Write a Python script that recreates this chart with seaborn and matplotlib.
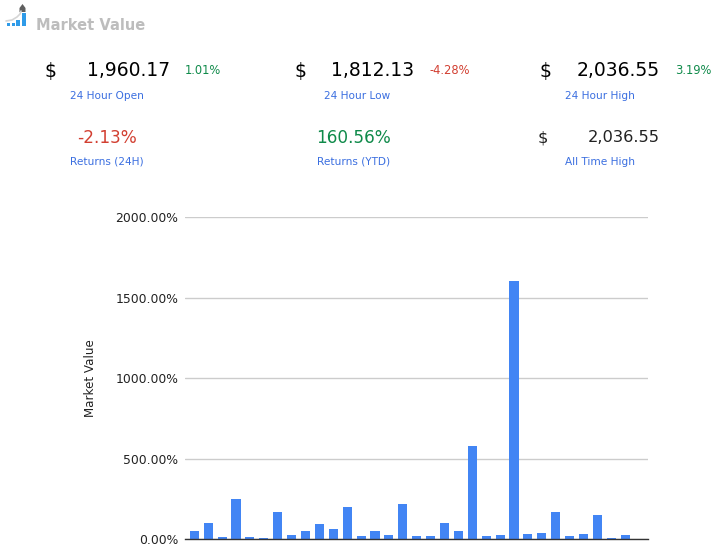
import matplotlib
matplotlib.use("Agg")
import matplotlib.pyplot as plt
from matplotlib.patches import Rectangle, Polygon
import pandas as pd
import seaborn as sns

W, H = 723, 553

# percent returns per bar
periods = [f"p{i}" for i in range(1, 33)]
returns = [52, 101, 14, 250, 14, 8, 170, 27, 52, 95, 64, 200, 20, 52, 27, 219,
           20, 20, 101, 52, 580, 20, 27, 1604, 33, 39, 170, 20, 33, 151, 8, 27]
y_ticks = [0, 500, 1000, 1500, 2000]
y_tick_labels = ["0.00%", "500.00%", "1000.00%", "1500.00%", "2000.00%"]

GREEN = "#0f8a4a"
RED = "#d23f31"
BLUE = "#3b6fe0"
BAR = "#4285f4"

sns.set_theme(style="white")
plt.rcParams["font.family"] = ["DejaVu Sans"]

fig = plt.figure(figsize=(W / 100, H / 100), dpi=100)


def put(x, y, s, **kw):
    # header text is placed in image pixels, y going down
    kw.setdefault("va", "center")
    fig.text(x / W, 1 - y / H, s, **kw)


# --- header ---
put(36, 25, "Market Value", fontsize=10.5, fontweight="bold", color="#bdbdbd", ha="left")

put(50, 71, "$", fontsize=13.5, color="black", ha="center")
put(170, 71, "1,960.17", fontsize=13.5, color="black", ha="right")
put(185, 70, "1.01%", fontsize=8.3, color=GREEN, ha="left")
put(107, 96, "24 Hour Open", fontsize=7.6, color=BLUE, ha="center")

put(300, 71, "$", fontsize=13.5, color="black", ha="center")
put(414, 71, "1,812.13", fontsize=13.5, color="black", ha="right")
put(430, 70, "-4.28%", fontsize=8.3, color=RED, ha="left")
put(357, 96, "24 Hour Low", fontsize=7.6, color=BLUE, ha="center")

put(545, 71, "$", fontsize=13.5, color="black", ha="center")
put(660, 71, "2,036.55", fontsize=13.5, color="black", ha="right")
put(675, 70, "3.19%", fontsize=8.3, color=GREEN, ha="left")
put(600, 96, "24 Hour High", fontsize=7.6, color=BLUE, ha="center")

put(107, 138, "-2.13%", fontsize=12.2, color=RED, ha="center")
put(107, 162, "Returns (24H)", fontsize=7.6, color=BLUE, ha="center")
put(354, 138, "160.56%", fontsize=12.2, color=GREEN, ha="center")
put(354, 162, "Returns (YTD)", fontsize=7.6, color=BLUE, ha="center")
put(543, 138, "$", fontsize=11.7, color="#222222", ha="center")
put(660, 138, "2,036.55", fontsize=11.7, color="#222222", ha="right")
put(600, 162, "All Time High", fontsize=7.6, color=BLUE, ha="center")

# --- small logo ---
logo = fig.add_axes([0, 1 - 32 / H, 40 / W, 32 / H])
logo.set_xlim(0, 40)
logo.set_ylim(32, 0)
logo.axis("off")
for lx, ltop, lw in [(7, 23, 3), (11.5, 23, 3), (16, 20, 3.5), (21.5, 13, 4)]:
    logo.add_patch(Rectangle((lx, ltop), lw, 26 - ltop, color="#2f9be8", lw=0))
logo.plot([6, 12, 17, 20, 21], [21, 20, 17, 14, 11], color="#d5d5d5", lw=1.2)
logo.add_patch(Polygon([[22.5, 4], [19.5, 8], [19.5, 12], [25.5, 12], [25.5, 8]],
                       color="#5f5f5f", lw=0))

# --- bar chart ---
ax = fig.add_axes([185 / W, 1 - 539.3 / H, (648 - 185) / W, (539.3 - 217) / H])
df = pd.DataFrame({"period": periods, "returns": returns})
sns.barplot(data=df, x="period", y="returns", color=BAR, saturation=1, width=0.65,
            linewidth=0, ax=ax)

ax.set_xlim(-0.67, 32.64)
ax.set_ylim(0, 2000)
ax.set_yticks(y_ticks)
ax.set_yticklabels(y_tick_labels, fontsize=8.9, color="#222222")
ax.set_xticks([])
ax.set_xlabel("")
ax.set_ylabel("Market Value", fontsize=8.6, color="#222222", labelpad=0)
ax.yaxis.set_label_coords((97 - 185) / (648 - 185), 0.5)
ax.tick_params(axis="y", length=0, pad=5)
ax.grid(axis="y", color="#cccccc", lw=1)
ax.set_axisbelow(True)
for side in ["top", "left", "right"]:
    ax.spines[side].set_visible(False)
ax.spines["bottom"].set_color("#333333")
ax.spines["bottom"].set_linewidth(1)

fig.savefig("out.png", dpi=100)
